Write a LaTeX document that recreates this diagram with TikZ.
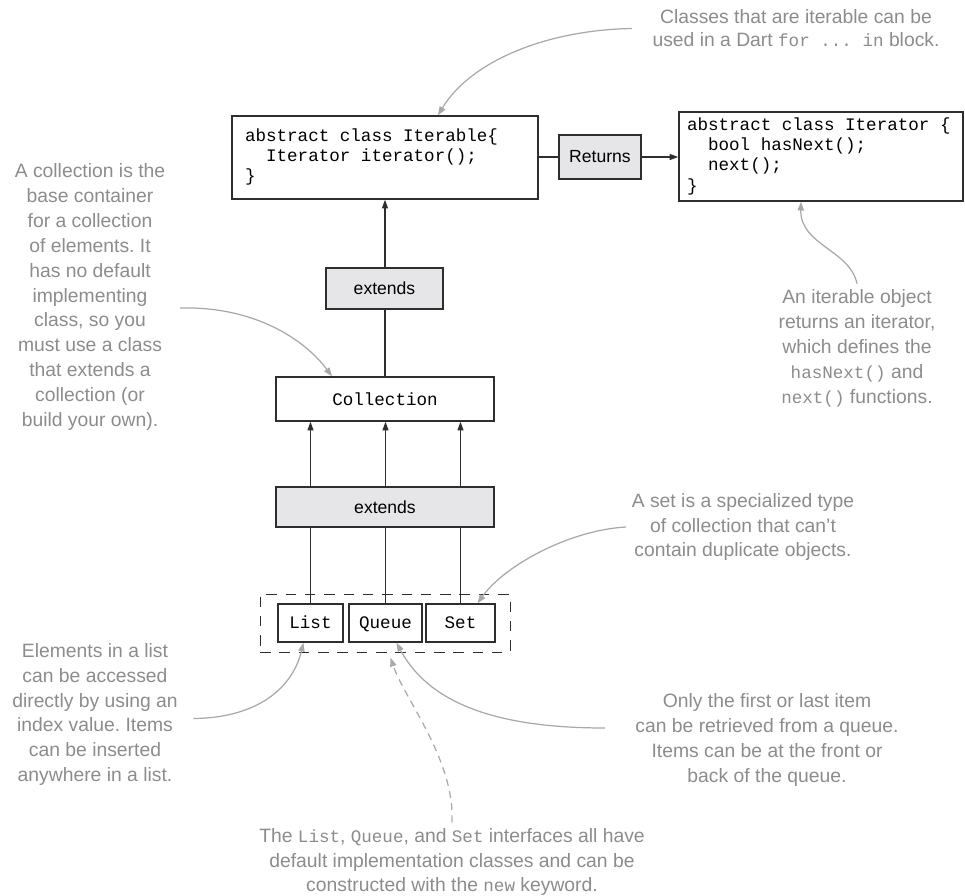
\documentclass[tikz,border=0pt]{standalone}
\usepackage{fontspec}
\setmainfont{Liberation Sans}
\setmonofont{Liberation Mono}
\usetikzlibrary{arrows.meta, positioning, calc}
\definecolor{notegray}{HTML}{8C8C8E}
\definecolor{linkgray}{HTML}{A8A8AA}
\definecolor{tagfill}{HTML}{E6E6E8}
\definecolor{boxline}{HTML}{2E2E2E}
\newcommand{\cw}[1]{{\fontsize{10}{14.2}\ttfamily #1}}
% left-aligned code lines in a box of fixed width
\newcommand{\codelines}[2]{\makebox[#1][l]{\begin{tabular}{@{}l@{}}#2\end{tabular}}}
\tikzset{
  codebox/.style={draw=boxline, line width=0.8pt, fill=white, inner sep=0pt,
    font=\fontsize{10}{11.6}\ttfamily},
  typebox/.style={codebox, minimum height=0.76cm, text height=1.6ex, text depth=0.45ex},
  tagbox/.style={draw=boxline, line width=0.8pt, fill=tagfill, inner sep=0pt,
    font=\fontsize{10}{12}\selectfont},
  note/.style={text=notegray, align=center, inner sep=3pt,
    font=\fontsize{11}{14.2}\selectfont},
  link/.style={draw=linkgray, line width=0.7pt, -{Triangle[length=5pt,width=3.6pt]}},
  main/.style={draw=boxline, line width=0.8pt, -{Triangle[length=5pt,width=3.4pt]}},
}

\begin{document}
\frenchspacing
\begin{tikzpicture}[x=0.02cm, y=-0.02cm]
\useasboundingbox (0,0) rectangle (965,896);
% interfaces
\node[codebox, minimum width=6.12cm, minimum height=1.66cm] (iterable) at (385,157.5)
  {\codelines{5.6cm}{abstract class Iterable\{\\\phantom{ab}Iterator iterator();\\\}}};
\node[codebox, minimum width=5.68cm, minimum height=1.78cm] (iterator) at (821,156.5)
  {\codelines{5.36cm}{abstract class Iterator \{\\\phantom{ab}bool hasNext();\\\phantom{ab}next();\\\}}};
\node[tagbox, minimum width=1.64cm, minimum height=0.88cm] (returns) at (600,157) {Returns};
\draw[boxline, line width=0.8pt] (iterable.east |- returns.west) -- (returns.west);
\draw[main] (returns.east) -- (returns.east -| iterator.west);
% collection
\node[codebox, minimum width=4.36cm, minimum height=0.88cm] (coll) at (385,399) {Collection};
\draw[main] (coll.north) -- (iterable.south);
\node[tagbox, minimum width=2.34cm, minimum height=0.82cm] (ext1) at (384.5,288.5) {extends};
% list, queue, set
\node[draw=boxline, line width=0.5pt, dash pattern=on 6pt off 5pt,
  minimum width=5cm, minimum height=1.16cm] (grp) at (385,623) {};
\node[typebox, minimum width=1.3cm] (list) at (310.5,623) {List};
\node[typebox, minimum width=1.46cm] (queue) at (385.5,623) {Queue};
\node[typebox, minimum width=1.38cm] (set) at (460.5,623) {Set};
\foreach \b in {list,queue,set}
  \draw[main] (\b.north) -- (\b.north |- coll.south);
\node[tagbox, minimum width=4.36cm, minimum height=0.8cm] (ext2) at (385,507) {extends};
% notes
\node[note, font=\fontsize{11}{13}\selectfont] (niter) at (796,28.5)
  {Classes that are iterable can be\\used in a Dart \cw{for ... in} block.};
\node[note] (ncoll) at (90,297) {A collection is the\\base container\\for a collection\\of elements. It\\has no default\\implementing\\class, so you\\must use a class\\that extends a\\collection (or\\build your own).};
\node[note] (ninter) at (857,348) {An iterable object\\returns an iterator,\\which defines the\\\cw{hasNext()} and\\\cw{next()} functions.};
\node[note] (nset) at (743,527) {A set is a specialized type\\of collection that can't\\contain duplicate objects.};
\node[note] (nqueue) at (767,740) {Only the first or last item\\can be retrieved from a queue.\\Items can be at the front or\\back of the queue.};
\node[note] (nlist) at (95,714.5) {Elements in a list\\can be accessed\\directly by using an\\index value. Items\\can be inserted\\anywhere in a list.};
\node[note] (nbottom) at (452,862) {The \cw{List}, \cw{Queue}, and \cw{Set} interfaces all have\\default implementation classes and can be\\constructed with the \cw{new} keyword.};
% note links
\draw[link] ([shift={(-15,0)}]niter.west) .. controls (545,30) and (470,62) .. ([shift={(53,0)}]iterable.north);
\draw[link] ([shift={(9,11)}]ncoll.east) .. controls (255,306) and (305,340) .. ([shift={(-53,0)}]coll.north);
\draw[link] (ninter.north) .. controls (850,250) and (800,245) .. ([shift={(-20,0)}]iterator.south);
\draw[link] (nset.west) .. controls (570,530) and (505,565) .. ([shift={(17,0)}]set.north);
\draw[link] ([shift={(10,4)}]nlist.east) .. controls (255,718) and (292,690) .. ([shift={(-7,0)}]list.south);
\draw[link] ([shift={(-25,-12)}]nqueue.west) .. controls (500,728) and (430,705) .. ([shift={(11,0)}]queue.south);
\draw[link, dash pattern=on 4pt off 3pt] (nbottom.north) .. controls (455,760) and (405,700) .. ([shift={(5,15)}]queue.south);
\end{tikzpicture}
\end{document}
